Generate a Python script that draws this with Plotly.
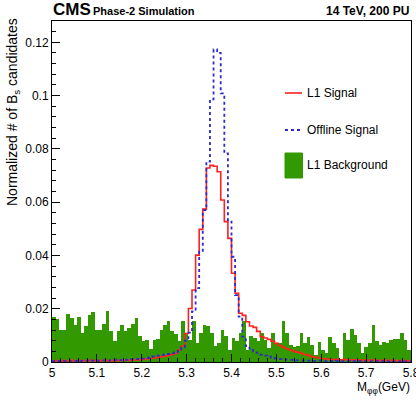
import numpy as np
import plotly.graph_objects as go

# ---------------- data ----------------
x_min, x_max = 5.0, 5.8

l1_background = [
    0.0169, 0.0161, 0.0119, 0.0122, 0.0180, 0.0165, 0.0140, 0.0169, 0.0109, 0.0134,
    0.0178, 0.0186, 0.0121, 0.0119, 0.0144, 0.0193, 0.0115, 0.0078, 0.0115, 0.0140,
    0.0115, 0.0128, 0.0144, 0.0165, 0.0096, 0.0078, 0.0084, 0.0049, 0.0081, 0.0086,
    0.0120, 0.0140, 0.0154, 0.0115, 0.0105, 0.0078, 0.0153, 0.0109, 0.0084, 0.0153,
    0.0071, 0.0109, 0.0140, 0.0134, 0.0109, 0.0059, 0.0071, 0.0121, 0.0096, 0.0046,
    0.0090, 0.0078, 0.0109, 0.0153, 0.0046, 0.0096, 0.0090, 0.0078, 0.0109, 0.0084,
    0.0053, 0.0109, 0.0071, 0.0071, 0.0153, 0.0109, 0.0065, 0.0055, 0.0059, 0.0109,
    0.0071, 0.0094, 0.0065, 0.0028, 0.0074, 0.0046, 0.0034, 0.0094, 0.0071, 0.0053,
    0.0011, 0.0109, 0.0084, 0.0124, 0.0103, 0.0071, 0.0034, 0.0055, 0.0071, 0.0140,
    0.0078, 0.0065, 0.0074, 0.0071, 0.0084, 0.0086, 0.0086, 0.0109, 0.0084, 0.0046,
]

l1_signal = [
    0.0004, 0.0005, 0.0003, 0.0005, 0.0004, 0.0006, 0.0004, 0.0005, 0.0005, 0.0004,
    0.0006, 0.0005, 0.0004, 0.0005, 0.0006, 0.0005, 0.0004, 0.0006, 0.0005, 0.0006,
    0.0007, 0.0006, 0.0007, 0.0008, 0.0009, 0.0010, 0.0011, 0.0013, 0.0015, 0.0017,
    0.0020, 0.0022, 0.0025, 0.0028, 0.0032, 0.0045, 0.0060, 0.0107, 0.0201, 0.0270,
    0.0401, 0.0498, 0.0574, 0.0728, 0.0738, 0.0735, 0.0714, 0.0608, 0.0527, 0.0464,
    0.0333, 0.0258, 0.0183, 0.0175, 0.0151, 0.0135, 0.0130, 0.0115, 0.0095, 0.0090,
    0.0085, 0.0078, 0.0070, 0.0062, 0.0055, 0.0050, 0.0045, 0.0040, 0.0037, 0.0033,
    0.0028, 0.0025, 0.0020, 0.0018, 0.0015, 0.0012, 0.0011, 0.0010, 0.0009, 0.0010,
    0.0008, 0.0009, 0.0008, 0.0007, 0.0008, 0.0007, 0.0006, 0.0007, 0.0006, 0.0007,
    0.0006, 0.0005, 0.0006, 0.0005, 0.0006, 0.0005, 0.0005, 0.0004, 0.0005, 0.0004,
]

offline_signal = [
    0.0003, 0.0004, 0.0003, 0.0004, 0.0003, 0.0004, 0.0004, 0.0003, 0.0004, 0.0005,
    0.0004, 0.0005, 0.0004, 0.0005, 0.0006, 0.0005, 0.0006, 0.0007, 0.0006, 0.0007,
    0.0008, 0.0009, 0.0010, 0.0011, 0.0012, 0.0013, 0.0015, 0.0018, 0.0021, 0.0024,
    0.0026, 0.0028, 0.0030, 0.0033, 0.0036, 0.0042, 0.0055, 0.0080, 0.0110, 0.0190,
    0.0277, 0.0414, 0.0570, 0.0752, 0.0986, 0.1173, 0.1160, 0.1008, 0.0783, 0.0527,
    0.0395, 0.0251, 0.0170, 0.0095, 0.0060, 0.0050, 0.0040, 0.0034, 0.0028, 0.0024,
    0.0020, 0.0016, 0.0013, 0.0011, 0.0010, 0.0009, 0.0008, 0.0007, 0.0006, 0.0006,
    0.0005, 0.0005, 0.0004, 0.0004, 0.0005, 0.0004, 0.0003, 0.0004, 0.0003, 0.0004,
    0.0003, 0.0003, 0.0004, 0.0003, 0.0003, 0.0004, 0.0003, 0.0003, 0.0002, 0.0003,
    0.0003, 0.0002, 0.0003, 0.0002, 0.0003, 0.0002, 0.0002, 0.0003, 0.0002, 0.0002,
]

x_tick_vals = [5.0, 5.1, 5.2, 5.3, 5.4, 5.5, 5.6, 5.7, 5.8]
x_tick_text = ["5", "5.1", "5.2", "5.3", "5.4", "5.5", "5.6", "5.7", "5.8"]
y_tick_vals = [0.0, 0.02, 0.04, 0.06, 0.08, 0.10, 0.12]
y_tick_text = ["0", "0.02", "0.04", "0.06", "0.08", "0.1", "0.12"]

legend_labels = ["L1 Signal", "Offline Signal", "L1 Background"]

# ---------------- styling ----------------
FONT = "Liberation Sans, Arial, Helvetica, sans-serif"
GREEN = "#339900"
RED = "#ff2020"
BLUE = "#2a2ad0"
W, H = 416, 405
ML, MR, MT, MB = 52, 5, 21, 43
Y_MAX = 0.128

n_bins = len(l1_background)
edges = np.linspace(x_min, x_max, n_bins + 1)
centers = 0.5 * (edges[:-1] + edges[1:])
bin_w = edges[1] - edges[0]


def step_xy(vals):
    return edges, np.append(np.asarray(vals), vals[-1])


fig = go.Figure()
fig.add_trace(go.Bar(x=centers, y=l1_background, width=bin_w,
                     marker=dict(color=GREEN, line=dict(width=0)),
                     name=legend_labels[2], showlegend=False))
sx, sy = step_xy(l1_signal)
fig.add_trace(go.Scatter(x=sx, y=sy, mode="lines", line_shape="hv",
                         line=dict(color=RED, width=1.6),
                         name=legend_labels[0], showlegend=False))
sx, sy = step_xy(offline_signal)
fig.add_trace(go.Scatter(x=sx, y=sy, mode="lines", line_shape="hv",
                         line=dict(color=BLUE, width=1.8, dash="dot"),
                         name=legend_labels[1], showlegend=False))

pw = W - ML - MR
ph = H - MT - MB


def px_x(px):
    return (px - ML) / pw


def px_y(py):
    return (H - MB - py) / ph


axis_common = dict(showgrid=False, zeroline=False, showline=True, linecolor="black",
                   linewidth=1, mirror=True, ticks="inside", ticklen=8, tickwidth=1,
                   tickcolor="black", ticklabeloverflow="allow", automargin=False,
                   tickfont=dict(family=FONT, size=12, color="black"))

fig.update_layout(
    width=W, height=H,
    margin=dict(l=ML, r=MR, t=MT, b=MB, pad=0, autoexpand=False),
    paper_bgcolor="white", plot_bgcolor="white",
    bargap=0,
    showlegend=False,
    font=dict(family=FONT, color="black"),
    xaxis=dict(range=[x_min, x_max], tickvals=x_tick_vals, ticktext=x_tick_text,
               minor=dict(dtick=0.02, tick0=5.0, ticks="inside", ticklen=4,
                          tickcolor="black", tickwidth=1),
               **axis_common),
    yaxis=dict(range=[0, Y_MAX], tickvals=y_tick_vals, ticktext=y_tick_text,
               minor=dict(dtick=0.004, tick0=0, ticks="inside", ticklen=4,
                          tickcolor="black", tickwidth=1),
               **axis_common),
)

ann = []
# header
ann.append(dict(text="<b>CMS</b>", x=px_x(51), y=px_y(9.5), xref="paper", yref="paper",
                xanchor="left", yanchor="middle", showarrow=False,
                font=dict(family=FONT, size=17, color="black")))
ann.append(dict(text="<b>Phase-2 Simulation</b>", x=px_x(91), y=px_y(11), xref="paper",
                yref="paper", xanchor="left", yanchor="middle", showarrow=False,
                font=dict(family=FONT, size=11, color="black")))
ann.append(dict(text="<b>14 TeV, 200 PU</b>", x=px_x(411), y=px_y(10.5), xref="paper",
                yref="paper", xanchor="right", yanchor="middle", showarrow=False,
                font=dict(family=FONT, size=12, color="black")))
# axis titles
ann.append(dict(text="Normalized # of B<sub>s</sub> candidates", textangle=-90,
                x=px_x(13), y=px_y(16), xref="paper", yref="paper",
                xanchor="center", yanchor="top", showarrow=False,
                font=dict(family=FONT, size=14, color="black")))
ann.append(dict(text="M<sub>φφ</sub>(GeV)", x=px_x(412), y=px_y(388), xref="paper",
                yref="paper", xanchor="right", yanchor="middle", showarrow=False,
                font=dict(family=FONT, size=12, color="black")))
# legend texts
for lab, yy in zip(legend_labels, [93, 130, 165]):
    ann.append(dict(text=lab, x=px_x(305), y=px_y(yy), xref="paper", yref="paper",
                    xanchor="left", yanchor="middle", showarrow=False,
                    font=dict(family=FONT, size=12, color="black")))
fig.update_layout(annotations=ann)

shapes = [
    dict(type="line", xref="paper", yref="paper", x0=px_x(285), x1=px_x(302),
         y0=px_y(93), y1=px_y(93), line=dict(color=RED, width=1.6)),
    dict(type="line", xref="paper", yref="paper", x0=px_x(285), x1=px_x(302),
         y0=px_y(130), y1=px_y(130), line=dict(color=BLUE, width=1.8, dash="dot")),
    dict(type="rect", xref="paper", yref="paper", x0=px_x(285), x1=px_x(302.5),
         y0=px_y(178), y1=px_y(153), fillcolor=GREEN, line=dict(color=GREEN, width=1)),
]
fig.update_layout(shapes=shapes)

fig.write_html("out.html")
